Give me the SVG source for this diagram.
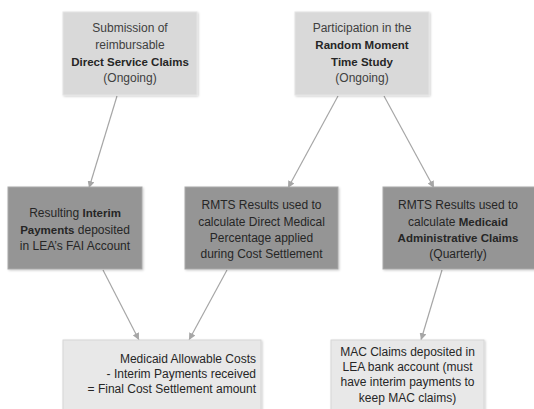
<svg xmlns="http://www.w3.org/2000/svg" width="534" height="409" viewBox="0 0 534 409">
<defs>
<style>
.t{font-family:"Liberation Sans",Arial,sans-serif;font-size:12px;fill:#404040;text-anchor:middle}
.d{fill:#262626}
.b{font-weight:bold;font-size:11.5px}
.light{fill:#d9d9d9;stroke:#e4e4e4;stroke-width:1}
.pale{fill:#e8e8e8;stroke:#d6d6d6;stroke-width:1}
.dark{fill:#959595;stroke:#a9a9a9;stroke-width:1}
.c{stroke:#a6a6a6;stroke-width:1.2;fill:none;marker-end:url(#ah)}
</style>
<marker id="ah" viewBox="0 0 10 10" refX="10" refY="5" markerWidth="7" markerHeight="7" markerUnits="userSpaceOnUse" orient="auto">
<path d="M0,0 L10,5 L0,10 z" fill="#a6a6a6"/>
</marker>
<filter id="sh" x="-10%" y="-10%" width="130%" height="130%">
<feDropShadow dx="1" dy="1" stdDeviation="1" flood-color="#000" flood-opacity="0.2"/>
</filter>
</defs>
<rect width="534" height="409" fill="#ffffff"/>
<g id="connectors">
<line class="c" x1="117" y1="96" x2="89" y2="188"/>
<line class="c" x1="338" y1="96" x2="288" y2="188"/>
<line class="c" x1="384" y1="96" x2="434" y2="188"/>
<line class="c" x1="103" y1="270" x2="139" y2="340"/>
<line class="c" x1="227" y1="270" x2="189" y2="340"/>
<line class="c" x1="442" y1="270" x2="421" y2="340"/>
</g>
<g id="n1">
<rect class="light" x="63" y="12" width="134" height="83" filter="url(#sh)"/>
<text class="t" x="130" y="32">Submission of</text>
<text class="t" x="130" y="49">reimbursable</text>
<text class="t b d" x="130" y="66">Direct Service Claims</text>
<text class="t" x="130" y="82">(Ongoing)</text>
</g>
<g id="n2">
<rect class="light" x="295" y="12" width="134" height="83" filter="url(#sh)"/>
<text class="t" x="362" y="32">Participation in the</text>
<text class="t b d" x="362" y="49">Random Moment</text>
<text class="t b d" x="362" y="66">Time Study</text>
<text class="t" x="362" y="82">(Ongoing)</text>
</g>
<g id="n3">
<rect class="dark" x="8" y="187" width="134" height="82" filter="url(#sh)"/>
<text class="t d" x="75" y="217">Resulting <tspan class="b">Interim</tspan></text>
<text class="t d" x="75" y="234"><tspan class="b">Payments</tspan> deposited</text>
<text class="t d" x="75" y="250">in LEA’s FAI Account</text>
</g>
<g id="n4">
<rect class="dark" x="185" y="187" width="153" height="82" filter="url(#sh)"/>
<text class="t d" x="261.5" y="209">RMTS Results used to</text>
<text class="t d" x="261.5" y="226">calculate Direct Medical</text>
<text class="t d" x="261.5" y="242">Percentage applied</text>
<text class="t d" x="261.5" y="258">during Cost Settlement</text>
</g>
<g id="n5">
<rect class="dark" x="383" y="187" width="152" height="82" filter="url(#sh)"/>
<text class="t d" x="458" y="209">RMTS Results used to</text>
<text class="t d" x="458" y="226">calculate <tspan class="b">Medicaid</tspan></text>
<text class="t b d" x="458" y="242">Administrative Claims</text>
<text class="t d" x="458" y="258">(Quarterly)</text>
</g>
<g id="n6">
<rect class="pale" x="63" y="340" width="198" height="72" filter="url(#sh)"/>
<text class="t d" x="256" y="363" style="text-anchor:end">Medicaid Allowable Costs</text>
<text class="t d" x="256" y="378" style="text-anchor:end">-  Interim Payments received</text>
<text class="t d" x="256" y="393" style="text-anchor:end">= Final Cost Settlement amount</text>
</g>
<g id="n7">
<rect class="pale" x="331" y="340" width="153" height="72" filter="url(#sh)"/>
<text class="t d" x="407.5" y="356">MAC Claims deposited in</text>
<text class="t d" x="407.5" y="371">LEA bank account (must</text>
<text class="t d" x="407.5" y="386">have interim payments to</text>
<text class="t d" x="407.5" y="402">keep MAC claims)</text>
</g>
</svg>
